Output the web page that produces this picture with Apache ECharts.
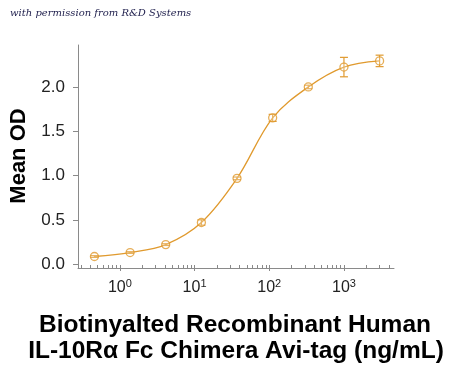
<!DOCTYPE html>
<html>
<head>
<meta charset="utf-8">
<script src="https://cdn.jsdelivr.net/npm/echarts@6/dist/echarts.min.js"></script>
<style>html,body{margin:0;padding:0;background:#fff}#c{width:450px;height:371px}</style>
</head>
<body>
<div id="c"></div>
<script>
// Data (concentration in ng/mL, mean OD, error)
const concentrations = [0.457, 1.372, 4.115, 12.35, 37.04, 111.1, 333.3, 1000, 3000];
const meanOD = [0.085, 0.13, 0.22, 0.47, 0.97, 1.655, 2.005, 2.23, 2.30];
const errorOD = [0.01, 0.01, 0.01, 0.03, 0.015, 0.04, 0.02, 0.11, 0.065];
const yTickValues = [0, 0.5, 1.0, 1.5, 2.0];
const xDecades = [0, 1, 2, 3];
const watermark = 'with permission from R&D Systems';
const xTitleLines = ['Biotinyalted Recombinant Human', 'IL-10R\u03b1 Fc Chimera Avi-tag (ng/mL)'];
const yTitle = 'Mean OD';

const COLOR = '#E09A2E';
const xMin = -0.56, xMax = 3.67;
const minorTicks = [];
for (let k = -1; k <= 3; k++) {
  for (let m = 1; m <= 9; m++) {
    const v = Math.log10(m * Math.pow(10, k));
    if (v >= xMin && v <= xMax) minorTicks.push(v);
  }
}
const pts = concentrations.map((c, i) => [Math.log10(c), meanOD[i]]);
const errData = concentrations.map((c, i) => [Math.log10(c), meanOD[i] - errorOD[i], meanOD[i] + errorOD[i]]);

const chart = echarts.init(document.getElementById('c'), null, {renderer: 'canvas'});
chart.setOption({
  animation: false,
  backgroundColor: '#fff',
  grid: {left: 78, right: 56, top: 45, bottom: 103},
  xAxis: [{
    type: 'value', min: xMin, max: xMax,
    axisLine: {show: true, onZero: false, lineStyle: {color: '#8a8a8a', width: 1}},
    axisTick: {show: true, inside: true, length: 3, customValues: minorTicks, lineStyle: {color: '#8a8a8a'}},
    axisLabel: {
      show: true, customValues: xDecades, margin: 10,
      formatter: v => '{b|10}{s|' + Math.round(v) + '}',
      rich: {
        b: {fontFamily: 'Liberation Sans', fontSize: 16, color: '#222'},
        s: {fontFamily: 'Liberation Sans', fontSize: 11, color: '#222', verticalAlign: 'top', padding: [0, 0, 9, 0]}
      }
    },
    splitLine: {show: false}
  }, {
    type: 'value', min: xMin, max: xMax, position: 'bottom',
    axisLine: {show: false, onZero: false},
    axisTick: {show: true, inside: false, length: 3, customValues: xDecades, lineStyle: {color: '#8a8a8a'}},
    axisLabel: {show: false},
    splitLine: {show: false}
  }],
  yAxis: {
    type: 'value', min: -0.045, max: 2.48,
    axisLine: {show: true, onZero: false, lineStyle: {color: '#8a8a8a', width: 1}},
    axisTick: {show: true, length: 5, customValues: yTickValues, lineStyle: {color: '#8a8a8a'}},
    axisLabel: {
      customValues: yTickValues, margin: 13,
      formatter: v => v.toFixed(1),
      fontFamily: 'Liberation Sans', fontSize: 17, color: '#222'
    },
    splitLine: {show: false}
  },
  series: [{
    type: 'line', data: pts, smooth: 0.35, showSymbol: false,
    lineStyle: {color: COLOR, width: 1.3}, z: 2
  }, {
    type: 'custom', data: errData, z: 3,
    renderItem: (params, api) => {
      const x = api.coord([api.value(0), api.value(1)])[0];
      const lo = api.coord([api.value(0), api.value(1)])[1];
      const hi = api.coord([api.value(0), api.value(2)])[1];
      const hw = 4;
      const st = {stroke: COLOR, lineWidth: 1.2};
      return {type: 'group', children: [
        {type: 'line', shape: {x1: x, y1: lo, x2: x, y2: hi}, style: st},
        {type: 'line', shape: {x1: x - hw, y1: lo, x2: x + hw, y2: lo}, style: st},
        {type: 'line', shape: {x1: x - hw, y1: hi, x2: x + hw, y2: hi}, style: st}
      ]};
    }
  }, {
    type: 'scatter', data: pts, symbol: 'circle', symbolSize: 8, z: 4,
    itemStyle: {color: 'rgba(255,255,255,0.3)', borderColor: COLOR, borderWidth: 1.3}
  }],
  graphic: [{
    type: 'text', left: 10, top: 8,
    style: {text: watermark, fontFamily: 'DejaVu Serif', fontStyle: 'italic', fontSize: 10, fill: '#1c1c4a'}
  }, {
    type: 'text', x: 19, y: 156, rotation: Math.PI / 2,
    style: {text: yTitle, fontFamily: 'Liberation Sans', fontWeight: 'bold', fontSize: 22, fill: '#000', align: 'center', verticalAlign: 'middle'}
  }, {
    type: 'text', x: 235, y: 326, scaleX: 1.065,
    style: {text: xTitleLines[0], fontFamily: 'Liberation Sans', fontWeight: 'bold', fontSize: 23, fill: '#000', align: 'center', verticalAlign: 'middle'}
  }, {
    type: 'text', x: 236, y: 352, scaleX: 1.065,
    style: {text: xTitleLines[1], fontFamily: 'Liberation Sans', fontWeight: 'bold', fontSize: 23, fill: '#000', align: 'center', verticalAlign: 'middle'}
  }]
});
</script>
</body>
</html>
